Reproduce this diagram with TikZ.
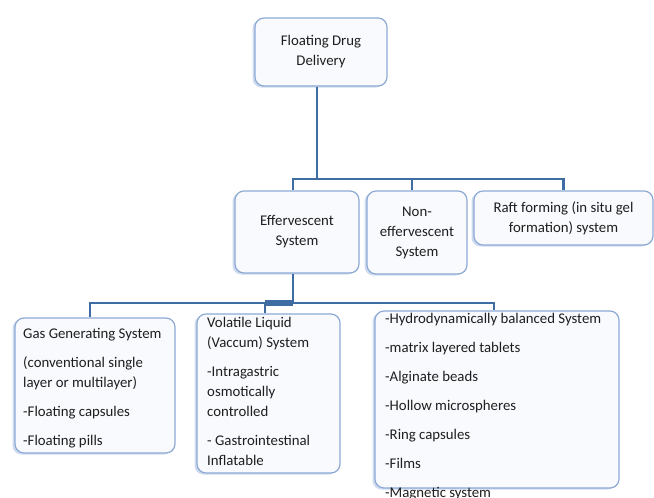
\documentclass[tikz,border=0pt]{standalone}
\usepackage{fontspec}
\setmainfont{Carlito}
\usetikzlibrary{shadows}
\definecolor{linecol}{HTML}{3F6DA3}
\definecolor{boxborder}{HTML}{8EAAD4}
\definecolor{boxfill}{HTML}{F8FAFD}
\definecolor{shadowcol}{HTML}{9DB7DE}
\definecolor{txt}{HTML}{1E1E1E}
\begin{document}
\begin{tikzpicture}[x=1pt,y=-1pt,
  box/.style={draw=boxborder, line width=1.2pt, rounded corners=9pt, fill=boxfill,
    drop shadow={shadow xshift=-2.5pt, shadow yshift=-1.5pt, fill=shadowcol, opacity=0.5},
    inner sep=0pt},
  conn/.style={draw=linecol, line width=2.8pt},
  lbl/.style={text=txt, font=\fontsize{14.8}{20}\selectfont},
  toplbl/.style={lbl, align=center},
  listlbl/.style={lbl, align=left, anchor=north west, inner sep=0pt}]
\useasboundingbox (0,0) rectangle (654,498);
% top level
\node[box, toplbl, minimum width=132pt, minimum height=68pt] (root) at (321,52) {Floating Drug\\Delivery};
\node[box, toplbl, minimum width=124pt, minimum height=82pt] (eff) at (297,232) {Effervescent\\System};
\node[box, toplbl, minimum width=100pt, minimum height=83pt] (non) at (417,232.5) {Non-\\effervescent\\System};
\node[box, toplbl, minimum width=179pt, minimum height=54pt] (raft) at (563.5,218) {Raft forming (in situ gel\\formation) system};
% bottom level boxes
\node[box, minimum width=160pt, minimum height=135pt] (gas) at (95,385.5) {};
\node[box, minimum width=143pt, minimum height=159pt] (vol) at (268.5,393.5) {};
\node[box, minimum width=244pt, minimum height=177pt] (hbs) at (497,399.5) {};
% texts of bottom boxes
\node[listlbl] (gastext) at (23,328) {Gas Generating System\\[9pt]
(conventional single\\layer or multilayer)\\[9pt]
-Floating capsules\\[9pt]
-Floating pills};
\node[listlbl] (voltext) at (207,317) {Volatile Liquid\\(Vaccum) System\\[9pt]
-Intragastric\\osmotically\\controlled\\[9pt]
- Gastrointestinal\\Inflatable};
\node[listlbl] (hbstext) at (385,313) {-Hydrodynamically balanced System\\[9pt]
-matrix layered tablets\\[9pt]
-Alginate beads\\[9pt]
-Hollow microspheres\\[9pt]
-Ring capsules\\[9pt]
-Films\\[9pt]
-Magnetic system};
% connectors, upper
\coordinate (j1) at (317,179);
\draw[conn] (root.south -| j1) -- (j1);
\draw[conn] ([xshift=-4pt]eff.north) |- (j1);
\draw[conn] (j1) -| (raft.north);
\draw[conn] ([xshift=-5pt]non.north) -- ([xshift=-5pt]non.north |- j1);
% connectors, lower
\coordinate (j2) at (293,303);
\draw[conn] ([xshift=-4pt]eff.south) -- (j2);
\draw[conn] (j2) -| ([xshift=-5pt]gas.north);
\draw[conn] (j2) -| ([xshift=-3pt]hbs.north);
\draw[conn] ([xshift=-3.5pt]vol.north) -- ([xshift=-3.5pt]vol.north |- j2);
\draw[linecol, line width=5.5pt] ([xshift=-3.5pt]vol.north |- j2) -- (j2);
\end{tikzpicture}
\end{document}
